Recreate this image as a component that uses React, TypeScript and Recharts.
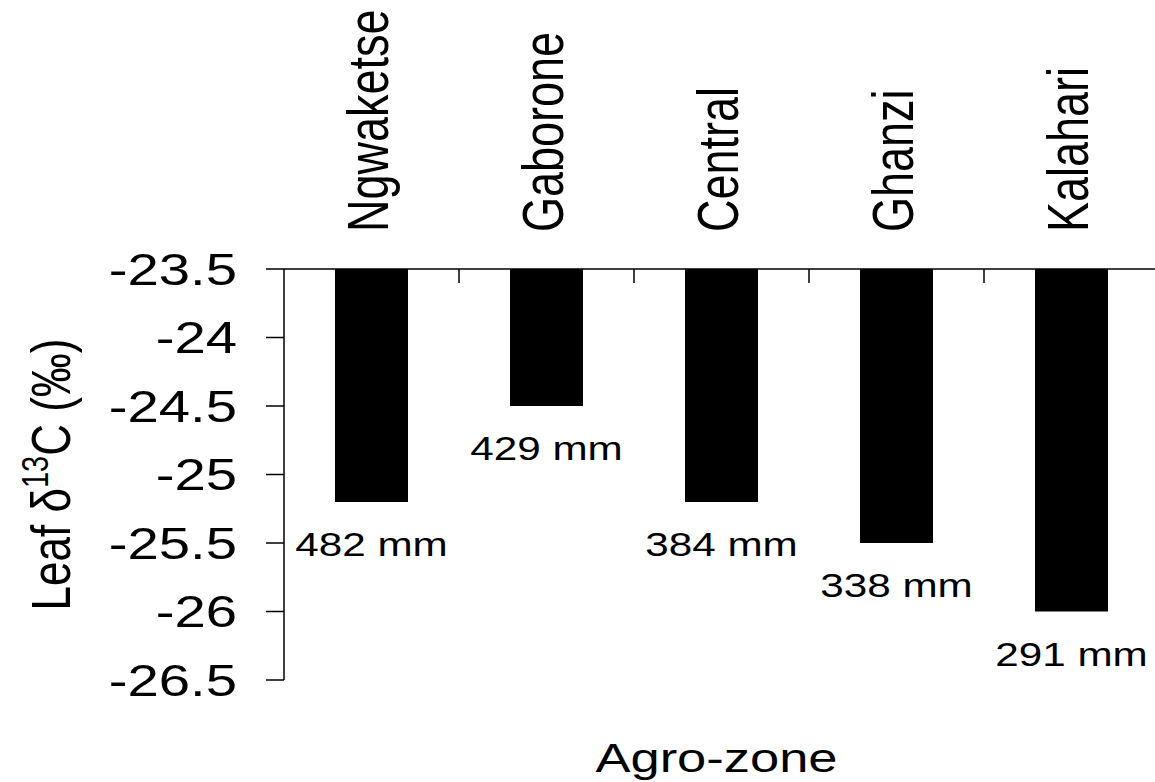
import { BarChart, Bar, XAxis, YAxis, LabelList } from 'recharts';

const zones = ['Ngwaketse', 'Gaborone', 'Central', 'Ghanzi', 'Kalahari'];
const leafD13C = [-25.2, -24.5, -25.2, -25.5, -26.0];
const rainfall = ['482 mm', '429 mm', '384 mm', '338 mm', '291 mm'];
const yTicks = [-23.5, -24, -24.5, -25, -25.5, -26, -26.5];

const data = zones.map((zone, i) => ({ zone, d13c: leafD13C[i], rain: rainfall[i] }));

// the source image is stretched sideways, so text is widened to match
const SX = 1.28;
const FONT = '"Liberation Sans", Arial, sans-serif';
const LABEL_GAP = 37;

function YTick({ x, y, payload }: any) {
  return (
    <text transform={`translate(${x},${y}) scale(${SX},1)`} textAnchor="end" dy="0.36em" fontSize={44} fontFamily={FONT} fill="#000">
      {payload.value}
    </text>
  );
}

// zone name plus the small inward tick on the boundary to its right
function ZoneTick({ x, y, payload, index }: any) {
  const half = payload.offset ?? 0;
  const top = y + LABEL_GAP;
  return (
    <g>
      {index < zones.length - 1 && (
        <line x1={x + half} x2={x + half} y1={top} y2={top + 14} stroke="#000" strokeWidth={1.5} />
      )}
      <text transform={`translate(${x + 16},${y}) scale(${SX},1) rotate(-90)`} textAnchor="start" fontSize={45} fontFamily={FONT} fill="#000">
        {payload.value}
      </text>
    </g>
  );
}

function RainLabel({ x, y, width, height, value }: any) {
  const bottom = Math.max(Number(y), Number(y) + Number(height));
  const cx = Number(x) + Number(width) / 2;
  return (
    <text transform={`translate(${cx},${bottom + 54}) scale(${SX},1)`} textAnchor="middle" fontSize={33} fontFamily={FONT} fill="#000">
      {value}
    </text>
  );
}

function XTitle({ viewBox }: any) {
  const cx = viewBox.x + viewBox.width / 2 - 5;
  return (
    <text transform={`translate(${cx},${viewBox.y + 92}) scale(${SX},1)`} textAnchor="middle" fontSize={41} fontFamily={FONT} fill="#000">
      Agro-zone
    </text>
  );
}

function YTitle({ viewBox }: any) {
  const cy = viewBox.y + viewBox.height / 2;
  return (
    <text transform={`translate(70,${cy}) scale(${SX},1) rotate(-90)`} textAnchor="middle" fontSize={44} fontFamily={FONT} fill="#000">
      <tspan>Leaf δ</tspan>
      <tspan dy={-17} fontSize={29}>13</tspan>
      <tspan dy={17}>C (‰)</tspan>
    </text>
  );
}

export default function App() {
  return (
    <div style={{ position: 'absolute', left: 0, top: 0, width: 1155, height: 782, overflow: 'hidden', background: '#fff' }}>
      <BarChart width={1160} height={782} data={data} margin={{ top: 0, right: 1, bottom: 0, left: 0 }} style={{ fontFamily: FONT }}>
        <XAxis
          xAxisId="cat"
          dataKey="zone"
          orientation="top"
          height={269}
          interval={0}
          tickSize={0}
          tickMargin={LABEL_GAP}
          tickLine={false}
          axisLine={{ stroke: '#000', strokeWidth: 1.5 }}
          tick={<ZoneTick />}
        />
        <XAxis
          xAxisId="title"
          dataKey="zone"
          orientation="bottom"
          height={102}
          axisLine={false}
          tickLine={false}
          tick={false}
          label={{ content: <XTitle /> }}
        />
        <YAxis
          type="number"
          domain={[-26.5, -23.5]}
          ticks={yTicks}
          interval={0}
          width={284}
          tickSize={18}
          tickMargin={29}
          axisLine={{ stroke: '#000', strokeWidth: 1.5 }}
          tickLine={{ stroke: '#000', strokeWidth: 1.5 }}
          tick={<YTick />}
          label={{ content: <YTitle /> }}
        />
        <Bar xAxisId="cat" dataKey="d13c" fill="#000" barSize={73} isAnimationActive={false}>
          <LabelList dataKey="rain" content={<RainLabel />} />
        </Bar>
      </BarChart>
    </div>
  );
}
